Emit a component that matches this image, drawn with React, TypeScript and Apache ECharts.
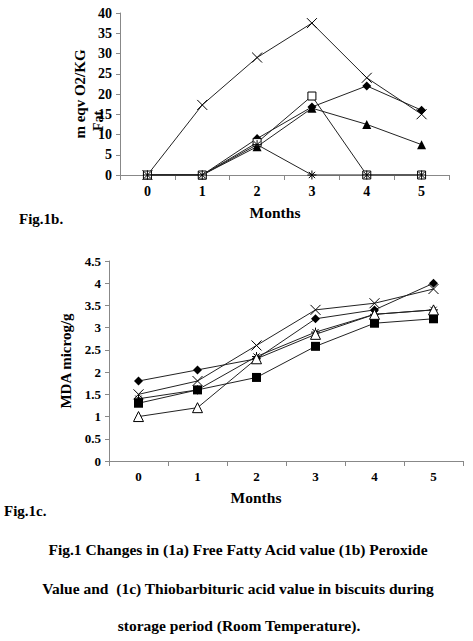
import React, { useEffect, useRef } from "react";
import * as echarts from "echarts";

const months = ["0", "1", "2", "3", "4", "5"];

// Fig.1b Peroxide value (m eqv O2/KG)
const pvCross = [0, 17.3, 29, 37.5, 24, 15];
const pvDiamond = [0, 0, 9, 16.8, 22, 16];
const pvTriangle = [0, 0, 7, 16.5, 12.5, 7.5];
const pvOpenSquare = [0, 0, 8, 19.5, 0, 0];
const pvAsterisk = [0, 0, 7.5, 0, 0, 0];
const pvFilledSquare = [0, 0, null, null, null, null];

// Fig.1c TBA value (MDA microg/g)
const tbaDiamond = [1.8, 2.05, 2.3, 3.2, 3.4, 4.0];
const tbaSquare = [1.3, 1.6, 1.88, 2.58, 3.1, 3.2];
const tbaTriangle = [1.0, 1.2, 2.3, 2.85, 3.3, 3.4];
const tbaCross = [1.5, 1.8, 2.6, 3.4, 3.55, 3.87];
const tbaAsterisk = [1.4, 1.6, 2.35, 2.9, 3.3, 3.4];

const CROSS = "path://M0,0L10,10M10,0L0,10";
const ASTER = "path://M5,0L5,10M0,5L10,5M1.5,1.5L8.5,8.5M8.5,1.5L1.5,8.5";

const FONT = "'Liberation Serif', 'Times New Roman', serif";

function mk(name: string, data: (number | null)[], gi: number, symbol: string, size: number, fill: string, z = 2) {
  const outline = symbol.startsWith("path://");
  return {
    name,
    type: "line",
    xAxisIndex: gi,
    yAxisIndex: gi,
    data,
    symbol,
    symbolSize: size,
    z,
    lineStyle: { color: "#222", width: 1 },
    itemStyle: {
      color: outline ? "none" : fill,
      borderColor: "#000",
      borderWidth: outline ? 1 : fill === "#fff" ? 1 : 0,
    },
    emphasis: { disabled: true },
  };
}

export default function App() {
  const ref = useRef<HTMLDivElement>(null);
  useEffect(() => {
    if (!ref.current) return;
    const chart = echarts.init(ref.current, undefined, { renderer: "svg" });
    const axisLabel = (fs: number) => ({
      fontFamily: FONT,
      fontWeight: "bold",
      fontSize: fs,
      color: "#000",
    });
    const xAx = (gi: number, fs: number) => ({
      type: "category",
      gridIndex: gi,
      data: months,
      boundaryGap: true,
      axisLine: { show: true, lineStyle: { color: "#888", width: 1 } },
      axisTick: { show: true, inside: false, length: 5, lineStyle: { color: "#888" }, alignWithLabel: false },
      axisLabel: { ...axisLabel(fs), margin: 9 },
      splitLine: { show: false },
    });
    const yAx = (gi: number, max: number, interval: number, name: string, gap: number, fs: number) => ({
      type: "value",
      gridIndex: gi,
      min: 0,
      max,
      interval,
      name,
      nameLocation: "middle",
      nameGap: gap,
      nameTextStyle: { fontFamily: FONT, fontWeight: "bold", fontSize: 15, color: "#000" },
      axisLine: { show: true, lineStyle: { color: "#888", width: 1 } },
      axisTick: { show: true, length: 4, lineStyle: { color: "#888" } },
      axisLabel: { ...axisLabel(fs), margin: 8 },
      splitLine: { show: false },
    });
    const txt = (text: string, x: number, y: number, fs: number, align = "left") => ({
      type: "text",
      x,
      y,
      style: {
        text,
        font: `bold ${fs}px ${FONT}`,
        fill: "#000",
        align,
        verticalAlign: "middle",
      },
    });
    chart.setOption({
      animation: false,
      backgroundColor: "#fff",
      grid: [
        { left: 120, top: 13, width: 329, height: 162 },
        { left: 109, top: 261, width: 354, height: 200 },
      ],
      xAxis: [xAx(0, 14), xAx(1, 13)],
      yAxis: [
        yAx(0, 40, 5, "m eqv O2/KG", 27, 14),
        yAx(1, 4.5, 0.5, "MDA microg/g", 30, 13),
      ],
      series: [
        mk("PV cross", pvCross, 0, CROSS, 10, "none"),
        mk("PV diamond", pvDiamond, 0, "diamond", 9, "#000", 3),
        mk("PV triangle", pvTriangle, 0, "triangle", 9, "#000", 3),
        mk("PV open square", pvOpenSquare, 0, "rect", 8, "#fff", 4),
        mk("PV asterisk", pvAsterisk, 0, ASTER, 9, "none", 5),
        mk("PV filled square", pvFilledSquare, 0, "rect", 8, "#000", 3),
        mk("TBA diamond", tbaDiamond, 1, "diamond", 9, "#000", 3),
        mk("TBA square", tbaSquare, 1, "rect", 9, "#000", 3),
        mk("TBA triangle", tbaTriangle, 1, "triangle", 10, "#fff", 3),
        mk("TBA cross", tbaCross, 1, CROSS, 10, "none", 2),
        mk("TBA asterisk", tbaAsterisk, 1, ASTER, 9, "none", 2),
      ],
      graphic: [
        {
          type: "text",
          x: 98,
          y: 121,
          rotation: Math.PI / 2,
          style: {
            text: "Fat",
            font: `bold 14px ${FONT}`,
            fill: "#000",
            align: "center",
            verticalAlign: "middle",
          },
        },
        txt("Months", 275, 212, 15.5, "center"),
        txt("Fig.1b.", 19, 219, 15),
        txt("Months", 256, 497, 15.5, "center"),
        txt("Fig.1c.", 4, 511, 15),
        txt("Fig.1 Changes in (1a) Free Fatty Acid value (1b) Peroxide", 238, 549, 15.5, "center"),
        txt("Value and  (1c) Thiobarbituric acid value in biscuits during", 238, 588, 15.5, "center"),
        txt("storage period (Room Temperature).", 239, 625, 15.5, "center"),
      ],
    });
    return () => chart.dispose();
  }, []);
  return (
    <div
      ref={ref}
      style={{ position: "fixed", left: 0, top: 0, width: 473, height: 641, background: "#fff" }}
    />
  );
}
